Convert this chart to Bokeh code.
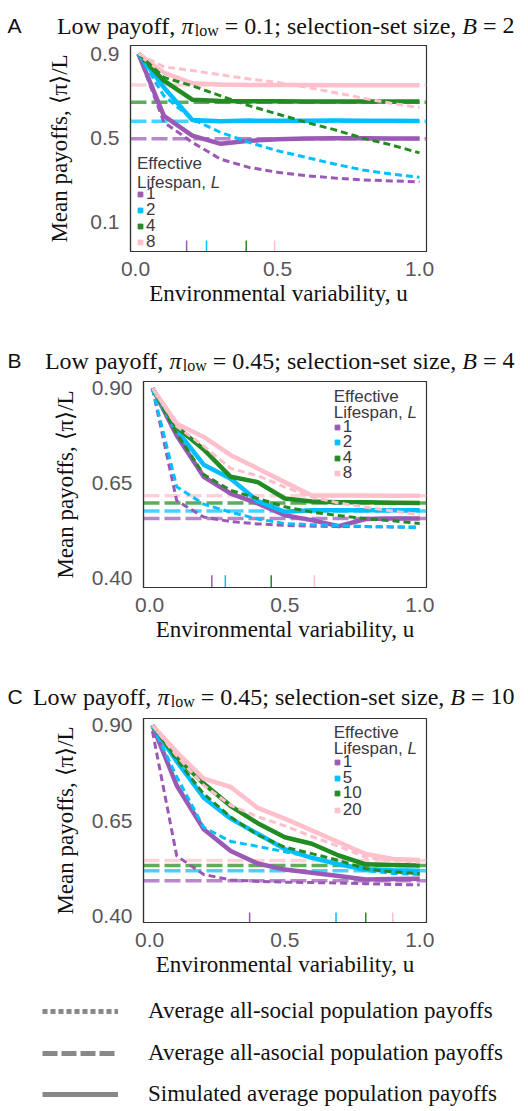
from bokeh.plotting import figure
from bokeh.layouts import column
from bokeh.models import (Label, Legend, LegendItem, FixedTicker, Range1d, Span,
                          NumeralTickFormatter)
from bokeh.embed import file_html
from bokeh.resources import INLINE

# ---------------- data ----------------
U = [0.01, 0.1, 0.2, 0.3, 0.4, 0.5, 0.6, 0.7, 0.8, 0.9, 1.0]

# Panel A: pi_low = 0.1, B = 2, L = 1, 2, 4, 8
A_labels = ["1", "2", "4", "8"]
A_sim_L1 = [0.90, 0.605, 0.512, 0.473, 0.487, 0.495, 0.498, 0.499, 0.499, 0.498, 0.498]
A_sim_L2 = [0.90, 0.740, 0.586, 0.580, 0.583, 0.582, 0.582, 0.583, 0.582, 0.582, 0.581]
A_sim_L4 = [0.90, 0.772, 0.682, 0.676, 0.675, 0.675, 0.674, 0.674, 0.674, 0.674, 0.673]
A_sim_L8 = [0.90, 0.810, 0.760, 0.754, 0.752, 0.752, 0.752, 0.751, 0.751, 0.751, 0.751]
A_soc_L1 = [0.90, 0.575, 0.480, 0.400, 0.361, 0.338, 0.322, 0.311, 0.302, 0.297, 0.293]
A_soc_L2 = [0.90, 0.700, 0.590, 0.527, 0.480, 0.440, 0.409, 0.377, 0.349, 0.330, 0.314]
A_soc_L4 = [0.90, 0.788, 0.748, 0.700, 0.654, 0.614, 0.575, 0.540, 0.500, 0.468, 0.430]
A_soc_L8 = [0.90, 0.838, 0.820, 0.800, 0.780, 0.764, 0.742, 0.716, 0.690, 0.665, 0.645]
A_asocial = [0.497, 0.580, 0.670, 0.752]
A_rug = [0.18, 0.25, 0.39, 0.49]

# Panel B: pi_low = 0.45, B = 4, L = 1, 2, 4, 8
B_labels = ["1", "2", "4", "8"]
B_sim_L1 = [0.90, 0.776, 0.667, 0.623, 0.597, 0.566, 0.553, 0.537, 0.556, 0.557, 0.557]
B_sim_L2 = [0.90, 0.790, 0.699, 0.662, 0.603, 0.575, 0.579, 0.579, 0.579, 0.579, 0.579]
B_sim_L4 = [0.90, 0.798, 0.739, 0.667, 0.653, 0.610, 0.602, 0.600, 0.600, 0.599, 0.598]
B_sim_L8 = [0.90, 0.807, 0.772, 0.724, 0.689, 0.653, 0.618, 0.618, 0.618, 0.617, 0.617]
B_soc_L1 = [0.90, 0.604, 0.561, 0.549, 0.543, 0.539, 0.537, 0.536, 0.536, 0.535, 0.535]
B_soc_L2 = [0.90, 0.641, 0.595, 0.574, 0.556, 0.544, 0.541, 0.539, 0.536, 0.535, 0.533]
B_soc_L4 = [0.90, 0.781, 0.673, 0.631, 0.610, 0.588, 0.574, 0.565, 0.557, 0.551, 0.544]
B_soc_L8 = [0.90, 0.800, 0.748, 0.689, 0.670, 0.640, 0.614, 0.598, 0.587, 0.577, 0.567]
B_asocial = [0.557, 0.577, 0.598, 0.617]
B_rug = [0.23, 0.28, 0.45, 0.61]

# Panel C: pi_low = 0.45, B = 10, L = 1, 5, 10, 20
C_labels = ["1", "5", "10", "20"]
C_sim_L1 = [0.90, 0.742, 0.627, 0.570, 0.537, 0.521, 0.513, 0.504, 0.495, 0.496, 0.497]
C_sim_L5 = [0.90, 0.805, 0.710, 0.655, 0.615, 0.575, 0.552, 0.535, 0.522, 0.519, 0.518]
C_sim_L10 = [0.90, 0.817, 0.747, 0.688, 0.643, 0.606, 0.589, 0.558, 0.535, 0.533, 0.532]
C_sim_L20 = [0.90, 0.830, 0.760, 0.738, 0.683, 0.655, 0.624, 0.593, 0.562, 0.549, 0.546]
C_soc_L1 = [0.885, 0.557, 0.508, 0.494, 0.490, 0.488, 0.487, 0.486, 0.484, 0.482, 0.481]
C_soc_L5 = [0.90, 0.765, 0.632, 0.595, 0.582, 0.568, 0.553, 0.534, 0.518, 0.511, 0.508]
C_soc_L10 = [0.90, 0.810, 0.720, 0.659, 0.612, 0.580, 0.563, 0.545, 0.523, 0.515, 0.510]
C_soc_L20 = [0.90, 0.820, 0.742, 0.690, 0.660, 0.636, 0.608, 0.582, 0.553, 0.545, 0.540]
C_asocial = [0.492, 0.518, 0.532, 0.545]
C_rug = [0.37, 0.69, 0.80, 0.90]

X_TICKS = [0.0, 0.5, 1.0]
A_Y_TICKS = [0.1, 0.5, 0.9]
BC_Y_TICKS = [0.40, 0.65, 0.90]

LEGEND_TEXTS = ["Average all-social population payoffs",
                "Average all-asocial population payoffs",
                "Simulated average population payoffs"]

# ---------------- style ----------------
COLORS = ["#9b59b6", "#00bfff", "#228b22", "#ffc0cb"]
SERIF = "Liberation Serif"
SANS = "Liberation Sans"
TICK_COLOR = "#5b5459"
DARK = "#3d3840"
W = 528
NAN = float("nan")

TNR = {' ': 250, ',': 250, '.': 250, ';': 278, '=': 564, '-': 333, 'L': 611, 'B': 611,
       'a': 444, 'c': 444, 'e': 444, 'f': 333, 'i': 278, 'l': 278, 'n': 500, 'o': 500,
       'p': 500, 's': 389, 't': 278, 'w': 722, 'y': 500, 'z': 444, 'π': 550}


def tw(s, size):
    return sum(TNR.get(ch, 500) for ch in s) / 1000.0 * size


def blank_fig(h):
    f = figure(frame_width=W, frame_height=h, x_range=Range1d(0, W), y_range=Range1d(0, h),
               output_backend="svg", toolbar_location=None, x_axis_type=None, y_axis_type=None,
               min_border_left=0, min_border_right=0, min_border_top=0, min_border_bottom=0,
               frame_align=False)
    f.outline_line_color = None
    f.xgrid.visible = False
    f.ygrid.visible = False
    return f


def title_fig(h, baseline, letter, pi_txt, b_txt, right=514):
    t = blank_fig(h)
    size, sub = 24, 16
    # (token, style, space before?)
    toks = [("Low", "n", False), ("payoff,", "n", True), ("π", "i", True), ("low", "s", False),
            ("=", "n", True), (pi_txt + ";", "n", True), ("selection-set", "n", True),
            ("size,", "n", True), ("B", "i", True), ("=", "n", True), (b_txt, "n", True)]
    sp = tw(" ", size)
    xs, x = [], 0.0
    for tok, st, gap in toks:
        if gap:
            x += sp
        xs.append(x)
        x += tw(tok, sub if st == "s" else size)
    x0 = right - x
    for (tok, st, gap), xi in zip(toks, xs):
        t.add_layout(Label(x=x0 + xi, y=baseline - (5 if st == "s" else 0), x_units="screen", y_units="screen",
                           text=tok, text_font=SERIF, text_font_size=f"{sub if st == 's' else size}px",
                           text_font_style="italic" if st == "i" else "normal",
                           text_color="#111111", text_baseline="alphabetic", text_align="left"))
    t.add_layout(Label(x=7, y=baseline, x_units="screen", y_units="screen",
                       text=letter, text_font=SANS, text_font_size="21px", text_color="#111111",
                       text_baseline="alphabetic"))
    return t


def make_panel(fl, fw, fh, bt, bb, xr, yr, yticks, yfmt, ylab_so,
               sims, socs, asos, labels, rug, rug_h, leg_x, leg_title_y, leg_centers):
    p = figure(frame_width=fw, frame_height=fh, x_range=Range1d(*xr), y_range=Range1d(*yr),
               output_backend="svg", toolbar_location=None,
               min_border_left=fl, min_border_right=W - fl - fw,
               min_border_top=bt, min_border_bottom=bb, frame_align=False)
    p.xgrid.visible = False
    p.ygrid.visible = False
    p.outline_line_color = "#333333"
    p.outline_line_width = 1.2
    for ax in (p.xaxis[0], p.yaxis[0]):
        ax.major_tick_line_color = None
        ax.minor_tick_line_color = None
        ax.axis_line_color = "#333333"
        ax.axis_line_width = 1.2
        ax.major_label_text_font = SANS
        ax.major_label_text_font_size = "21px"
        ax.major_label_text_color = TICK_COLOR
        ax.axis_label_text_font = SERIF
        ax.axis_label_text_font_size = "23px"
        ax.axis_label_text_font_style = "normal"
        ax.axis_label_text_color = "#111111"
    p.xaxis.ticker = FixedTicker(ticks=X_TICKS)
    p.xaxis.formatter = NumeralTickFormatter(format="0.0")
    p.xaxis.axis_label = "Environmental variability, u"
    p.xaxis.major_label_standoff = 4
    p.xaxis.axis_label_standoff = 2
    p.yaxis.ticker = FixedTicker(ticks=yticks)
    p.yaxis.formatter = NumeralTickFormatter(format=yfmt)
    p.yaxis.axis_label = "Mean payoffs, ⟨π⟩/L"
    p.yaxis.major_label_standoff = 5
    p.yaxis.axis_label_standoff = ylab_so

    for a, c in zip(asos, COLORS):
        p.add_layout(Span(location=a, dimension="width", line_color=c, line_width=3.5,
                          line_dash="16 5", line_alpha=0.72, level="underlay"))
    for s, c in zip(sims, COLORS):
        p.line(U, s, line_color=c, line_width=4.5, line_join="round")
    for s, c in zip(socs, COLORS):
        p.line(U, s, line_color=c, line_width=3, line_dash="7 4")
    p.segment(x0=rug, x1=rug, y0=[yr[0]] * len(rug), y1=[yr[0] + rug_h] * len(rug),
              line_color=COLORS, line_width=1.5)

    # inner legend
    p.add_layout(Label(x=leg_x + 2.5, y=leg_title_y[0], x_units="screen", y_units="screen",
                       text="Effective", text_font=SANS, text_font_size="17px",
                       text_color=DARK, text_baseline="middle"))
    p.add_layout(Label(x=leg_x + 2.5, y=leg_title_y[1], x_units="screen", y_units="screen",
                       text="Lifespan,", text_font=SANS, text_font_size="17px",
                       text_color=DARK, text_baseline="middle"))
    p.add_layout(Label(x=leg_x + 2.5 + 73.7, y=leg_title_y[1], x_units="screen", y_units="screen",
                       text="L", text_font=SANS, text_font_size="17px", text_font_style="italic",
                       text_color=DARK, text_baseline="middle"))
    for lab, c, cy in zip(labels, COLORS, leg_centers):
        r = p.scatter(x=[NAN], y=[NAN], marker="square", size=5, fill_color=c, line_color=c)
        p.add_layout(Legend(items=[LegendItem(label=lab, renderers=[r])], location=(leg_x, cy - 11),
                            glyph_width=12, glyph_height=22, label_height=22, label_standoff=0,
                            padding=0, margin=0, spacing=0, border_line_color=None,
                            background_fill_alpha=0, label_text_font=SANS,
                            label_text_font_size="17px", label_text_color=DARK))
    return p


tA = title_fig(39, 14, "A", "0.1", "2")
pA = make_panel(130, 296, 206, 6, 84, (-0.0176, 1.0246), (-0.0375, 0.939), A_Y_TICKS, "0.0", 15,
                [A_sim_L1, A_sim_L2, A_sim_L4, A_sim_L8], [A_soc_L1, A_soc_L2, A_soc_L4, A_soc_L8],
                A_asocial, A_labels, A_rug, 0.052, 4, (88, 69), [57, 41, 25, 9])
tB = title_fig(40, 15, "B", "0.45", "4")
pB = make_panel(143, 283, 206, 6, 83, (-0.023, 1.025), (0.3755, 0.918), BC_Y_TICKS, "0.00", 11,
                [B_sim_L1, B_sim_L2, B_sim_L4, B_sim_L8], [B_soc_L1, B_soc_L2, B_soc_L4, B_soc_L8],
                B_asocial, B_labels, B_rug, 0.032, 187.7, (191.3, 174.7), [160.3, 144.7, 129.3, 113.7])
tC = title_fig(42, 16, "C", "0.45", "10")
pC = make_panel(143, 283, 204, 6, 63, (-0.023, 1.025), (0.382, 0.918), BC_Y_TICKS, "0.00", 11,
                [C_sim_L1, C_sim_L5, C_sim_L10, C_sim_L20], [C_soc_L1, C_soc_L5, C_soc_L10, C_soc_L20],
                C_asocial, C_labels, C_rug, 0.026, 187.7, (190.3, 173.7), [159.7, 143.7, 128.7, 112])

# bottom key
pL = blank_fig(126)
key_styles = ["5 3", "15 4", "solid"]
key_centers = [98, 56, 15]
for txt, dash, cy in zip(LEGEND_TEXTS, key_styles, key_centers):
    r = pL.line(x=[NAN], y=[NAN], line_color="#888888", line_width=5, line_dash=dash)
    pL.add_layout(Legend(items=[LegendItem(label=txt, renderers=[r])], location=(42, cy - 11),
                         glyph_width=76, glyph_height=22, label_height=22, label_standoff=30,
                         padding=0, margin=0, spacing=0, border_line_color=None,
                         background_fill_alpha=0, label_text_font=SERIF,
                         label_text_font_size="23px", label_text_color="#111111"))

layout = column(tA, pA, tB, pB, tC, pC, pL, spacing=0)
open("out.html", "w").write(file_html(layout, INLINE))
